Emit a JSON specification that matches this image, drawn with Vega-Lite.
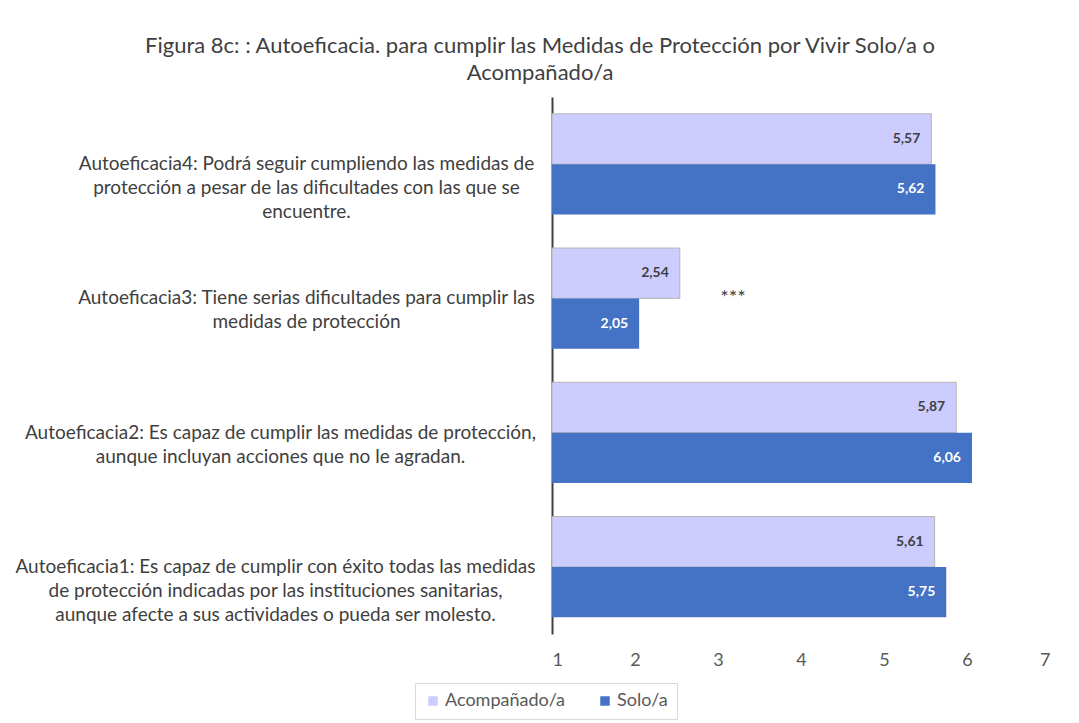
{
  "$schema": "https://vega.github.io/schema/vega-lite/v6.json",
  "autosize": {"type": "none"},
  "width": 498,
  "height": 537,
  "padding": {"left": 552, "top": 97, "right": 29, "bottom": 89},
  "background": "white",
  "config": {
    "font": "Lato",
    "view": {"stroke": null},
    "locale": {"number": {"decimal": ",", "thousands": ".", "grouping": [3], "currency": ["", " €"]}}
  },
  "title": {
    "text": ["Figura 8c: : Autoeficacia. para cumplir las Medidas de Protección por Vivir Solo/a o", "Acompañado/a"],
    "anchor": "middle",
    "frame": "group",
    "dx": -261,
    "offset": 12,
    "fontSize": 22,
    "fontWeight": "normal",
    "color": "#404040",
    "lineHeight": 27
  },
  "datasets": {
    "bars": [
      {"cat": "Autoeficacia4: Podrá seguir cumpliendo las medidas de|protección a pesar de las dificultades con las que se|encuentre.", "grupo": "Acompañado/a", "valor": 5.57},
      {"cat": "Autoeficacia4: Podrá seguir cumpliendo las medidas de|protección a pesar de las dificultades con las que se|encuentre.", "grupo": "Solo/a", "valor": 5.62},
      {"cat": "Autoeficacia3: Tiene serias dificultades para cumplir las|medidas de protección", "grupo": "Acompañado/a", "valor": 2.54},
      {"cat": "Autoeficacia3: Tiene serias dificultades para cumplir las|medidas de protección", "grupo": "Solo/a", "valor": 2.05},
      {"cat": "Autoeficacia2: Es capaz de cumplir las medidas de protección,|aunque incluyan acciones que no le agradan.", "grupo": "Acompañado/a", "valor": 5.87},
      {"cat": "Autoeficacia2: Es capaz de cumplir las medidas de protección,|aunque incluyan acciones que no le agradan.", "grupo": "Solo/a", "valor": 6.06},
      {"cat": "Autoeficacia1: Es capaz de cumplir con éxito todas las medidas|de protección indicadas por las instituciones sanitarias,|aunque afecte a sus actividades o pueda ser molesto.", "grupo": "Acompañado/a", "valor": 5.61},
      {"cat": "Autoeficacia1: Es capaz de cumplir con éxito todas las medidas|de protección indicadas por las instituciones sanitarias,|aunque afecte a sus actividades o pueda ser molesto.", "grupo": "Solo/a", "valor": 5.75}
    ],
    "stars": [
      {"cat": "Autoeficacia3: Tiene serias dificultades para cumplir las|medidas de protección", "valor": 3.18, "texto": "***"}
    ]
  },
  "data": {"name": "bars"},
  "encoding": {
    "y": {
      "field": "cat",
      "type": "nominal",
      "sort": [
        "Autoeficacia4: Podrá seguir cumpliendo las medidas de|protección a pesar de las dificultades con las que se|encuentre.",
        "Autoeficacia3: Tiene serias dificultades para cumplir las|medidas de protección",
        "Autoeficacia2: Es capaz de cumplir las medidas de protección,|aunque incluyan acciones que no le agradan.",
        "Autoeficacia1: Es capaz de cumplir con éxito todas las medidas|de protección indicadas por las instituciones sanitarias,|aunque afecte a sus actividades o pueda ser molesto."
      ],
      "scale": {"paddingInner": 0.25, "paddingOuter": 0.125},
      "axis": {
        "title": null,
        "labelExpr": "split(datum.value, '|')",
        "labelAlign": "center",
        "labelBaseline": "middle",
        "labelPadding": {"expr": "indexof(datum.value, 'Autoeficacia1') == 0 ? 277 : indexof(datum.value, 'Autoeficacia2') == 0 ? 272 : 246"},
        "labelFontSize": 19,
        "labelLineHeight": 24,
        "labelColor": "#404040",
        "labelLimit": 0,
        "ticks": false,
        "domain": true,
        "domainColor": "#404040",
        "domainWidth": 2,
        "grid": false
      }
    },
    "x": {
      "field": "valor",
      "type": "quantitative",
      "scale": {"domain": [1, 7], "nice": false, "zero": false},
      "axis": {
        "title": null,
        "values": [1, 2, 3, 4, 5, 6, 7],
        "format": "d",
        "domain": false,
        "ticks": false,
        "grid": false,
        "labelFontSize": 18,
        "labelColor": "#595959",
        "labelPadding": 17
      }
    }
  },
  "layer": [
    {
      "mark": {"type": "bar", "stroke": "#B4B4B4"},
      "encoding": {
        "x2": {"datum": 1},
        "yOffset": {"field": "grupo", "type": "nominal", "sort": ["Acompañado/a", "Solo/a"], "scale": {"paddingInner": 0, "paddingOuter": 0}},
        "color": {
          "field": "grupo",
          "type": "nominal",
          "scale": {"domain": ["Acompañado/a", "Solo/a"], "range": ["#CCCCFF", "#4472C4"]},
          "legend": {
            "title": null,
            "orient": "none",
            "legendX": -137,
            "legendY": 586,
            "direction": "horizontal",
            "symbolType": "square",
            "symbolSize": 90,
            "symbolStrokeWidth": 0,
            "labelFontSize": 18,
            "labelColor": "#595959",
            "strokeColor": "#D9D9D9",
            "padding": 9,
            "columnPadding": 30,
            "labelOffset": 3
          }
        },
        "strokeWidth": {"condition": {"test": "datum.grupo == 'Acompañado/a'", "value": 1}, "value": 0}
      }
    },
    {
      "mark": {"type": "text", "align": "right", "baseline": "middle", "dx": -11, "fontSize": 14, "fontWeight": "bold"},
      "encoding": {
        "yOffset": {"field": "grupo", "type": "nominal", "sort": ["Acompañado/a", "Solo/a"]},
        "text": {"field": "valor", "type": "quantitative", "format": ".2f"},
        "color": {"condition": {"test": "datum.grupo == 'Solo/a'", "value": "white"}, "value": "#404040"}
      }
    },
    {
      "data": {"name": "stars"},
      "mark": {"type": "text", "align": "center", "baseline": "middle", "fontSize": 20, "color": "#404040"},
      "encoding": {
        "text": {"field": "texto", "type": "nominal"}
      }
    }
  ]
}
